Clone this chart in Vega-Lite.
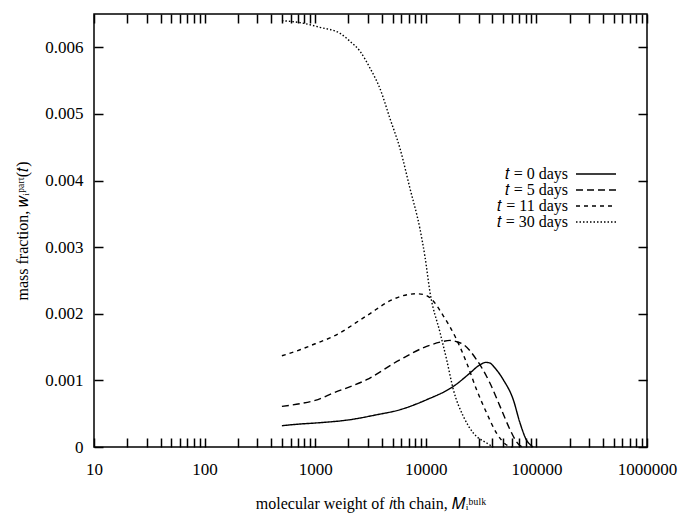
{
  "$schema": "https://vega.github.io/schema/vega-lite/v6.json",
  "width": 553,
  "height": 433,
  "autosize": {"type": "none"},
  "padding": {"left": 94, "top": 14, "right": 36, "bottom": 69},
  "background": "white",
  "config": {
    "font": "Liberation Serif",
    "view": {"stroke": "black", "strokeWidth": 1.5},
    "axis": {
      "grid": false,
      "domain": false,
      "tickColor": "black",
      "tickWidth": 1.5,
      "tickSize": -9,
      "labelColor": "black",
      "labelFont": "Liberation Serif",
      "labelFontSize": 17,
      "titleFont": "Liberation Serif",
      "titleFontSize": 16,
      "titleFontWeight": "normal",
      "titleColor": "black"
    }
  },
  "data": {
    "values": [
      {"t": "𝑡 = 0 days", "M": 500, "w": 0.00032},
      {"t": "𝑡 = 0 days", "M": 730, "w": 0.000345},
      {"t": "𝑡 = 0 days", "M": 1000, "w": 0.00036},
      {"t": "𝑡 = 0 days", "M": 2064, "w": 0.00041},
      {"t": "𝑡 = 0 days", "M": 3500, "w": 0.00048},
      {"t": "𝑡 = 0 days", "M": 5845, "w": 0.00056},
      {"t": "𝑡 = 0 days", "M": 10180, "w": 0.00071},
      {"t": "𝑡 = 0 days", "M": 17750, "w": 0.00091},
      {"t": "𝑡 = 0 days", "M": 25100, "w": 0.00111},
      {"t": "𝑡 = 0 days", "M": 30000, "w": 0.00122},
      {"t": "𝑡 = 0 days", "M": 35000, "w": 0.00127},
      {"t": "𝑡 = 0 days", "M": 38000, "w": 0.00126},
      {"t": "𝑡 = 0 days", "M": 42000, "w": 0.00119},
      {"t": "𝑡 = 0 days", "M": 50200, "w": 0.00101},
      {"t": "𝑡 = 0 days", "M": 61800, "w": 0.00071},
      {"t": "𝑡 = 0 days", "M": 71100, "w": 0.00036},
      {"t": "𝑡 = 0 days", "M": 81600, "w": 0.0001},
      {"t": "𝑡 = 0 days", "M": 90000, "w": 0.00002},
      {"t": "𝑡 = 0 days", "M": 93500, "w": 0},
      {"t": "𝑡 = 5 days", "M": 500, "w": 0.00061},
      {"t": "𝑡 = 5 days", "M": 730, "w": 0.00065},
      {"t": "𝑡 = 5 days", "M": 1000, "w": 0.0007},
      {"t": "𝑡 = 5 days", "M": 1459, "w": 0.00081},
      {"t": "𝑡 = 5 days", "M": 2917, "w": 0.00101},
      {"t": "𝑡 = 5 days", "M": 5845, "w": 0.00131},
      {"t": "𝑡 = 5 days", "M": 10180, "w": 0.00151},
      {"t": "𝑡 = 5 days", "M": 14000, "w": 0.00158},
      {"t": "𝑡 = 5 days", "M": 16560, "w": 0.0016},
      {"t": "𝑡 = 5 days", "M": 19000, "w": 0.00158},
      {"t": "𝑡 = 5 days", "M": 21850, "w": 0.00154},
      {"t": "𝑡 = 5 days", "M": 28800, "w": 0.00131},
      {"t": "𝑡 = 5 days", "M": 38000, "w": 0.00096},
      {"t": "𝑡 = 5 days", "M": 46900, "w": 0.00061},
      {"t": "𝑡 = 5 days", "M": 57800, "w": 0.00026},
      {"t": "𝑡 = 5 days", "M": 66000, "w": 0.00008},
      {"t": "𝑡 = 5 days", "M": 71100, "w": 0.00002},
      {"t": "𝑡 = 5 days", "M": 76000, "w": 0},
      {"t": "𝑡 = 11 days", "M": 500, "w": 0.00137},
      {"t": "𝑡 = 11 days", "M": 730, "w": 0.00146},
      {"t": "𝑡 = 11 days", "M": 1000, "w": 0.00155},
      {"t": "𝑡 = 11 days", "M": 1459, "w": 0.00166},
      {"t": "𝑡 = 11 days", "M": 2917, "w": 0.00197},
      {"t": "𝑡 = 11 days", "M": 5090, "w": 0.00222},
      {"t": "𝑡 = 11 days", "M": 7000, "w": 0.00229},
      {"t": "𝑡 = 11 days", "M": 8280, "w": 0.0023},
      {"t": "𝑡 = 11 days", "M": 9500, "w": 0.00229},
      {"t": "𝑡 = 11 days", "M": 10920, "w": 0.00224},
      {"t": "𝑡 = 11 days", "M": 14390, "w": 0.00197},
      {"t": "𝑡 = 11 days", "M": 19020, "w": 0.00161},
      {"t": "𝑡 = 11 days", "M": 23450, "w": 0.00126},
      {"t": "𝑡 = 11 days", "M": 28800, "w": 0.00086},
      {"t": "𝑡 = 11 days", "M": 35500, "w": 0.00051},
      {"t": "𝑡 = 11 days", "M": 43600, "w": 0.00021},
      {"t": "𝑡 = 11 days", "M": 53800, "w": 0.00003},
      {"t": "𝑡 = 11 days", "M": 60000, "w": 0},
      {"t": "𝑡 = 30 days", "M": 500, "w": 0.0064},
      {"t": "𝑡 = 30 days", "M": 730, "w": 0.00637},
      {"t": "𝑡 = 30 days", "M": 1104, "w": 0.0063},
      {"t": "𝑡 = 30 days", "M": 1675, "w": 0.00621},
      {"t": "𝑡 = 30 days", "M": 2064, "w": 0.00609},
      {"t": "𝑡 = 30 days", "M": 2542, "w": 0.00594},
      {"t": "𝑡 = 30 days", "M": 3127, "w": 0.00569},
      {"t": "𝑡 = 30 days", "M": 3852, "w": 0.00538},
      {"t": "𝑡 = 30 days", "M": 4745, "w": 0.00493},
      {"t": "𝑡 = 30 days", "M": 5845, "w": 0.00448},
      {"t": "𝑡 = 30 days", "M": 7197, "w": 0.00388},
      {"t": "𝑡 = 30 days", "M": 8865, "w": 0.00327},
      {"t": "𝑡 = 30 days", "M": 9844, "w": 0.00285},
      {"t": "𝑡 = 30 days", "M": 10920, "w": 0.00232},
      {"t": "𝑡 = 30 days", "M": 13440, "w": 0.00172},
      {"t": "𝑡 = 30 days", "M": 15440, "w": 0.00131},
      {"t": "𝑡 = 30 days", "M": 17750, "w": 0.00086},
      {"t": "𝑡 = 30 days", "M": 21850, "w": 0.00046},
      {"t": "𝑡 = 30 days", "M": 26900, "w": 0.00021},
      {"t": "𝑡 = 30 days", "M": 35500, "w": 0.00006},
      {"t": "𝑡 = 30 days", "M": 40700, "w": 0}
    ]
  },
  "layer": [
    {
      "mark": {"type": "line", "color": "black", "strokeWidth": 1.4, "interpolate": "monotone"},
      "encoding": {
        "x": {
          "field": "M", "type": "quantitative",
          "scale": {"type": "log", "domain": [10, 1000000], "nice": false},
          "axis": {
            "orient": "bottom",
            "values": [10,20,30,40,50,60,70,80,90,100,200,300,400,500,600,700,800,900,1000,2000,3000,4000,5000,6000,7000,8000,9000,10000,20000,30000,40000,50000,60000,70000,80000,90000,100000,200000,300000,400000,500000,600000,700000,800000,900000,1000000],
            "labelExpr": "indexof([10,100,1000,10000,100000,1000000], datum.value) >= 0 ? format(datum.value, 'd') : ''",
            "labelOverlap": false,
            "labelFlush": false,
            "labelPadding": 23,
            "title": "molecular weight of 𝑖th chain, 𝑀ᵢᵇᵘˡᵏ",
            "titlePadding": 18
          }
        },
        "y": {
          "field": "w", "type": "quantitative",
          "scale": {"domain": [0, 0.0065], "nice": false},
          "axis": {
            "orient": "left",
            "values": [0, 0.001, 0.002, 0.003, 0.004, 0.005, 0.006],
            "labelExpr": "datum.value == 0 ? '0' : format(datum.value, '.3f')",
            "labelPadding": 20,
            "title": "mass fraction, 𝑤ᵢᵖᵃʳᵗ(𝑡)",
            "titlePadding": 14
          }
        },
        "strokeDash": {
          "field": "t", "type": "nominal",
          "scale": {
            "domain": ["𝑡 = 0 days", "𝑡 = 5 days", "𝑡 = 11 days", "𝑡 = 30 days"],
            "range": [[1, 0], [7, 4], [4, 4], [1.5, 2]]
          },
          "legend": {
            "title": null,
            "orient": "none",
            "legendX": 494,
            "legendY": 152,
            "padding": 0,
            "symbolType": "M-4,0H4",
            "symbolSize": 100,
            "symbolStrokeWidth": 1.4,
            "symbolStrokeColor": "black",
            "labelAlign": "right",
            "labelOffset": -36,
            "labelFont": "Liberation Serif",
            "labelFontSize": 16,
            "labelColor": "black",
            "rowPadding": 0
          }
        }
      }
    },
    {
      "mark": {"type": "line", "opacity": 0},
      "encoding": {
        "x": {
          "field": "M", "type": "quantitative",
          "scale": {"type": "log", "domain": [10, 1000000], "nice": false},
          "axis": {
            "orient": "top",
            "values": [10,20,30,40,50,60,70,80,90,100,200,300,400,500,600,700,800,900,1000,2000,3000,4000,5000,6000,7000,8000,9000,10000,20000,30000,40000,50000,60000,70000,80000,90000,100000,200000,300000,400000,500000,600000,700000,800000,900000,1000000],
            "labels": false,
            "title": null
          }
        },
        "y": {
          "field": "w", "type": "quantitative",
          "scale": {"domain": [0, 0.0065], "nice": false},
          "axis": {
            "orient": "right",
            "values": [0, 0.001, 0.002, 0.003, 0.004, 0.005, 0.006],
            "labels": false,
            "title": null
          }
        },
        "detail": {"field": "t", "type": "nominal"}
      }
    }
  ],
  "resolve": {"axis": {"x": "independent", "y": "independent"}}
}
